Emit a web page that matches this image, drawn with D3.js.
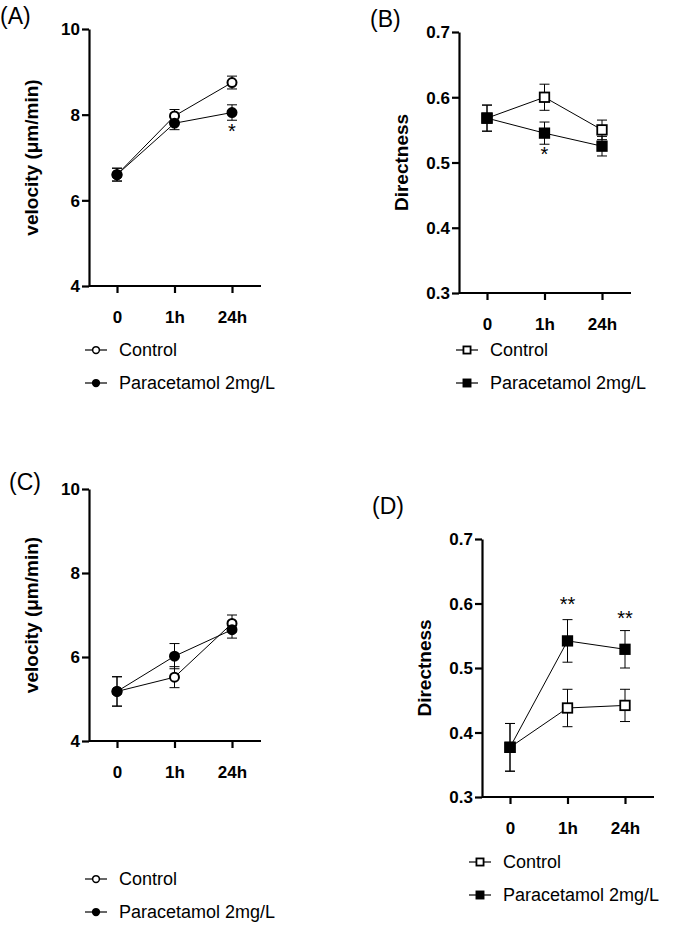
<!DOCTYPE html>
<html><head><meta charset="utf-8">
<script src="https://cdn.jsdelivr.net/npm/d3@7"></script>
<style>body{margin:0;background:#fff}text{font-family:Arial,"Liberation Sans",sans-serif}</style>
</head><body><svg id="fig" width="694" height="933"></svg>
<script>
var timepoints = ["0", "1h", "24h"];
var seriesNames = ["Control", "Paracetamol 2mg/L"];

// panel A: velocity
var aControl = [6.6, 7.97, 8.75], aControlErr = [0.15, 0.15, 0.15];
var aPara = [6.6, 7.8, 8.05], aParaErr = [0.15, 0.15, 0.18];
// panel B: directness
var bControl = [0.568, 0.60, 0.55], bControlErr = [0.02, 0.02, 0.015];
var bPara = [0.568, 0.545, 0.525], bParaErr = [0.02, 0.017, 0.015];
// panel C: velocity
var cControl = [5.18, 5.52, 6.8], cControlErr = [0.35, 0.25, 0.2];
var cPara = [5.18, 6.02, 6.65], cParaErr = [0.35, 0.3, 0.2];
// panel D: directness
var dControl = [0.377, 0.438, 0.442], dControlErr = [0.037, 0.029, 0.025];
var dPara = [0.377, 0.542, 0.529], dParaErr = [0.037, 0.033, 0.029];

var svg = d3.select("#fig");

function panel(o) {
  var g = svg.append("g");
  var x = d3.scalePoint().domain(timepoints).range([o.x0 + 28, o.x0 + 143]);
  var y = d3.scaleLinear().domain(o.domain).range([o.y1, o.y0]);

  g.append("text").attr("x", o.lx).attr("y", o.ly).style("font-size", "23px").text(o.letter);

  var ya = g.append("g").attr("transform", "translate(" + o.x0 + ",0)")
    .call(d3.axisLeft(y).tickValues(o.ticks).tickFormat(o.fmt).tickSize(7).tickSizeOuter(0));
  var xa = g.append("g").attr("transform", "translate(0," + o.y1 + ")")
    .call(d3.axisBottom(x).tickSize(7).tickSizeOuter(0));
  xa.select(".domain").attr("d", "M" + o.x0 + ",0H" + (o.x0 + 172));
  [ya, xa].forEach(function (a) {
    a.selectAll("path,line").attr("stroke", "#000").attr("stroke-width", 2.2);
    a.selectAll("text").style("font-size", "17px").style("font-weight", "bold").attr("fill", "#000");
  });
  ya.selectAll("text").attr("dy", "0.35em").attr("x", -9);
  xa.selectAll("text").attr("dy", "1.6em");

  g.append("text").attr("transform", "translate(" + (o.x0 - 51) + "," + ((o.y0 + o.y1) / 2) + ") rotate(-90)")
    .attr("text-anchor", "middle").style("font-size", "19px").style("font-weight", "bold").text(o.ylabel);

  var series = [{v: o.c, e: o.ce, fill: "#fff"}, {v: o.p, e: o.pe, fill: "#000"}];
  series.forEach(function (s) {
    g.append("path").datum(s.v).attr("fill", "none").attr("stroke", "#000").attr("stroke-width", 1)
      .attr("d", d3.line().x(function (d, i) { return x(timepoints[i]); }).y(function (d) { return y(d); }));
    s.v.forEach(function (d, i) {
      var cx = x(timepoints[i]);
      g.append("line").attr("x1", cx).attr("x2", cx).attr("y1", y(d - s.e[i])).attr("y2", y(d + s.e[i])).attr("stroke", "#000");
      [d - s.e[i], d + s.e[i]].forEach(function (v) {
        g.append("line").attr("x1", cx - 5).attr("x2", cx + 5).attr("y1", y(v)).attr("y2", y(v)).attr("stroke", "#000");
      });
    });
  });
  series.forEach(function (s) {
    s.v.forEach(function (d, i) { marker(g, x(timepoints[i]), y(d), o.shape, s.fill); });
  });

  o.stars.forEach(function (st) {
    g.append("text").attr("x", x(st.t)).attr("y", y(st.v)).attr("text-anchor", "middle")
      .style("font-size", "20px").text(st.s);
  });

  seriesNames.forEach(function (n, i) {
    var ly = o.legY + i * 33;
    g.append("line").attr("x1", o.legX - 11).attr("x2", o.legX + 11).attr("y1", ly).attr("y2", ly).attr("stroke", "#000").attr("stroke-width", 1.2);
    marker(g, o.legX, ly, o.shape, i ? "#000" : "#fff", 0.75);
    g.append("text").attr("x", o.legX + 23).attr("y", ly + 6).style("font-size", "18px").text(n);
  });
}

function marker(g, cx, cy, shape, fill, k) {
  k = k || 1;
  if (shape === "circle") {
    g.append("circle").attr("cx", cx).attr("cy", cy).attr("r", 4.5 * k)
      .attr("fill", fill).attr("stroke", "#000").attr("stroke-width", 2 * k);
  } else {
    var s = 9.5 * k;
    g.append("rect").attr("x", cx - s / 2).attr("y", cy - s / 2).attr("width", s).attr("height", s)
      .attr("fill", fill).attr("stroke", "#000").attr("stroke-width", 1.8);
  }
}

var velTicks = [4, 6, 8, 10], dirTicks = [0.3, 0.4, 0.5, 0.6, 0.7];
panel({letter: "(A)", lx: 0, ly: 24, x0: 89, y0: 29, y1: 286, domain: [4, 10], ticks: velTicks, fmt: d3.format("d"),
  ylabel: "velocity (\u03bcm/min)", shape: "circle", c: aControl, ce: aControlErr, p: aPara, pe: aParaErr,
  stars: [{t: "24h", v: 7.45, s: "*"}], legX: 96, legY: 350});
panel({letter: "(B)", lx: 370, ly: 27, x0: 459, y0: 32, y1: 293, domain: [0.3, 0.7], ticks: dirTicks, fmt: d3.format(".1f"),
  ylabel: "Directness", shape: "square", c: bControl, ce: bControlErr, p: bPara, pe: bParaErr,
  stars: [{t: "1h", v: 0.502, s: "*"}], legX: 467, legY: 350});
panel({letter: "(C)", lx: 9, ly: 490, x0: 89, y0: 489, y1: 741, domain: [4, 10], ticks: velTicks, fmt: d3.format("d"),
  ylabel: "velocity (\u03bcm/min)", shape: "circle", c: cControl, ce: cControlErr, p: cPara, pe: cParaErr,
  stars: [], legX: 96, legY: 879});
panel({letter: "(D)", lx: 372, ly: 514, x0: 482, y0: 539, y1: 797, domain: [0.3, 0.7], ticks: dirTicks, fmt: d3.format(".1f"),
  ylabel: "Directness", shape: "square", c: dControl, ce: dControlErr, p: dPara, pe: dParaErr,
  stars: [{t: "1h", v: 0.588, s: "**"}, {t: "24h", v: 0.567, s: "**"}], legX: 480, legY: 862});
</script></body></html>
